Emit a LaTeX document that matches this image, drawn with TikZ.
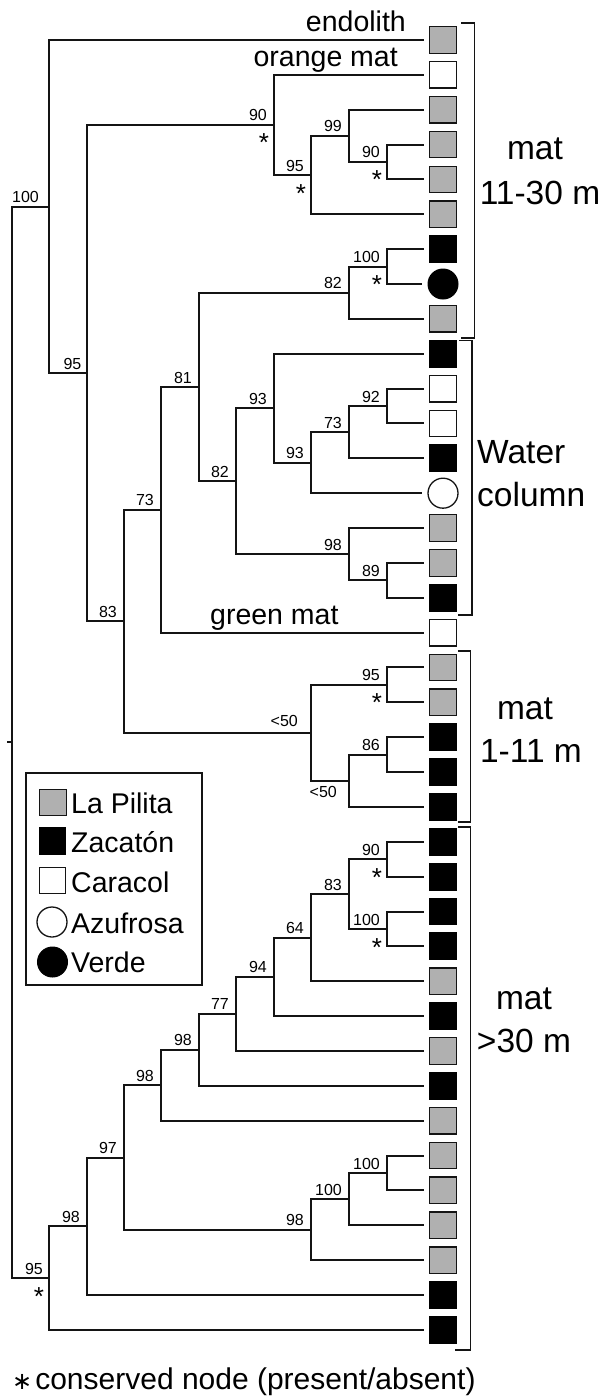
\documentclass[tikz,border=0pt]{standalone}
\usepackage{fontspec}
\setmainfont{Liberation Sans}
\newfontfamily\djv{DejaVu Sans}
\definecolor{lp}{RGB}{176,176,176}
\definecolor{ln}{RGB}{20,20,20}
\begin{document}
\begin{tikzpicture}[x=1pt,y=-1pt,
  br/.style={draw=ln,line width=2pt},
  sq/.style={draw=ln,line width=1.3pt,minimum size=26.5pt,inner sep=0pt,outer sep=0pt},
  pil/.style={sq,fill=lp},
  zac/.style={sq,fill=black,draw=black},
  car/.style={sq,fill=white},
  azu/.style={circle,draw=ln,line width=1.3pt,minimum size=30pt,inner sep=0pt,fill=white},
  ver/.style={circle,draw=black,fill=black,line width=1pt,minimum size=30pt,inner sep=0pt},
  bs/.style={font=\fontsize{16}{18}\selectfont,inner sep=0pt,anchor=base east,xshift=-7pt,yshift=4pt},
  ast/.style={font=\fontsize{26}{28}\selectfont,inner sep=0pt,anchor=base,xshift=-10pt,yshift=-27pt},
  lab/.style={font=\fontsize{28.5}{32}\selectfont,inner sep=0pt},
  grp/.style={font=\fontsize{33.5}{40}\selectfont,inner sep=0pt,anchor=base},
  bracket/.style={draw=ln,line width=1.7pt}
]
\useasboundingbox (0,0) rectangle (604,1396);
\fill[white] (0,0) rectangle (604,1396);

% leaves
\foreach \s [count=\n] in {pil,car,pil,pil,pil,pil,zac,ver,pil,zac,car,car,zac,azu,pil,pil,zac,car,pil,pil,zac,zac,zac,zac,zac,zac,zac,pil,zac,pil,zac,pil,pil,pil,pil,pil,zac,zac}
  \node[\s] (L\n) at (443,{40+34.86*(\n-1)}) {};

% internal nodes
\coordinate (a90) at (387,162.0);
\coordinate (a99) at (349,135.9);
\coordinate (a95) at (311,175.1);
\coordinate (a90top) at (274,125.0);
\coordinate (b100) at (387,266.6);
\coordinate (b82) at (349,292.7);
\coordinate (c92) at (387,406.0);
\coordinate (c73) at (349,432.2);
\coordinate (c93b) at (311,462.7);
\coordinate (c93a) at (274,408.2);
\coordinate (d89) at (387,580.3);
\coordinate (d98) at (349,554.2);
\coordinate (c82) at (236,481.2);
\coordinate (b81) at (199,387.0);
\coordinate (b73) at (161,509.8);
\coordinate (e95) at (387,684.9);
\coordinate (e86) at (387,754.6);
\coordinate (e50b) at (349,780.8);
\coordinate (e50) at (311,732.8);
\coordinate (b83) at (124,621.3);
\coordinate (a95b) at (87,373.2);
\coordinate (r100) at (49,206.6);
\coordinate (f90) at (387,859.2);
\coordinate (f100) at (387,929.0);
\coordinate (f83) at (349,894.1);
\coordinate (f64) at (311,937.7);
\coordinate (f94) at (274,976.9);
\coordinate (f77) at (236,1013.9);
\coordinate (f98c) at (199,1049.9);
\coordinate (f98b) at (161,1085.3);
\coordinate (g100b) at (387,1173.0);
\coordinate (g100) at (349,1199.1);
\coordinate (g98) at (311,1229.6);
\coordinate (f97) at (124,1157.5);
\coordinate (f98a) at (87,1226.2);
\coordinate (f95) at (49,1278.0);
\coordinate (root) at (12,742.3);
\coordinate (rs) at (7,742.3);

% connectors between internal nodes
\draw[br] (rs) -- (root);
\foreach \p/\c in {root/r100,root/f95,r100/a95b,a95b/a90top,a95b/b83,a90top/a95,a95/a99,a99/a90,
  b83/b73,b83/e50,b73/b81,b81/b82,b81/c82,b82/b100,c82/c93a,c82/d98,c93a/c93b,c93b/c73,c73/c92,d98/d89,
  e50/e95,e50/e50b,e50b/e86,
  f95/f98a,f98a/f97,f97/f98b,f97/g98,f98b/f98c,f98c/f77,f77/f94,f94/f64,f64/f83,f83/f90,f83/f100,g98/g100,g100/g100b}
  \draw[br] (\p) |- (\c);
% connectors to leaves
\foreach \p/\c in {r100/L1,a90top/L2,a99/L3,a90/L4,a90/L5,a95/L6,b100/L7,b100/L8,b82/L9,
  c93a/L10,c92/L11,c92/L12,c73/L13,c93b/L14,d98/L15,d89/L16,d89/L17,b73/L18,
  e95/L19,e95/L20,e86/L21,e86/L22,e50b/L23,
  f90/L24,f90/L25,f100/L26,f100/L27,f64/L28,f94/L29,f77/L30,f98c/L31,f98b/L32,
  g100b/L33,g100b/L34,g100/L35,g98/L36,f98a/L37,f95/L38}
  \draw[br] (\p) |- ([xshift=-5.5pt]\c.west);

% bootstrap values
\node[bs,xshift=-3pt] (t1) at (r100) {100};
\node[bs,xshift=1.5pt] (t2) at (a95b) {95};
\node[bs] (t3) at (a90top) {90};
\node[bs] (t4) at (a95) {95};
\node[bs] (t5) at (a99) {99};
\node[bs] (t6) at (a90) {90};
\node[bs] (t7) at (b100) {100};
\node[bs] (t8) at (b82) {82};
\node[bs] (t9) at (b81) {81};
\node[bs] (t10) at (c82) {82};
\node[bs] (t11) at (c93a) {93};
\node[bs] (t12) at (c93b) {93};
\node[bs] (t13) at (c73) {73};
\node[bs] (t14) at (c92) {92};
\node[bs] (t15) at (d98) {98};
\node[bs] (t16) at (d89) {89};
\node[bs] (t17) at (b73) {73};
\node[bs] (t18) at (b83) {83};
\node[bs,xshift=-6pt,yshift=2pt] (t19) at (e50) {<50};
\node[bs] (t20) at (e95) {95};
\node[bs] (t21) at (e86) {86};
\node[bs,xshift=-5pt,yshift=-21pt] (t22) at (e50b) {<50};
\node[bs,xshift=1pt] (t23) at (f95) {95};
\node[bs] (t24) at (f98a) {98};
\node[bs] (t25) at (f97) {97};
\node[bs] (t26) at (f98b) {98};
\node[bs] (t27) at (f98c) {98};
\node[bs] (t28) at (f77) {77};
\node[bs] (t29) at (f94) {94};
\node[bs] (t30) at (f64) {64};
\node[bs] (t31) at (f83) {83};
\node[bs] (t32) at (f90) {90};
\node[bs] (t33) at (f100) {100};
\node[bs] (t34) at (g98) {98};
\node[bs] (t35) at (g100) {100};
\node[bs] (t36) at (g100b) {100};

% conserved node marks
\foreach \p in {a90top,a95,a90,b100,e95,f90,f100,f95}
  \node[ast] (s\p) at (\p) {*};

% leaf labels
\node[lab,anchor=base east] (endo) at (406,32) {endolith};
\node[lab,anchor=base east] (orng) at (398,67) {orange mat};
\node[lab,anchor=base west] (grn) at (210,624) {green mat};

% brackets
\draw[bracket] (461,23) -- (474.5,23) -- (474.5,338) -- (461,338);
\draw[bracket] (459,340.5) -- (472,340.5) -- (472,615) -- (458,615);
\draw[bracket] (458,651) -- (470.5,651) -- (470.5,822) -- (458,822);
\draw[bracket] (458,827) -- (470.5,827) -- (470.5,1350) -- (455,1350);

% group labels
\node[grp] (g1a) at (535,160) {mat};
\node[grp] (g1b) at (540,205) {11-30 m};
\node[grp,anchor=base west] (g2a) at (477,463) {Water};
\node[grp,anchor=base west] (g2b) at (477,506) {column};
\node[grp] (g3a) at (525,719) {mat};
\node[grp] (g3b) at (531,762) {1-11 m};
\node[grp] (g4a) at (524,1009) {mat};
\node[grp] (g4b) at (524,1052) {>30 m};

% legend
\draw[draw=ln,line width=1.1pt] (26,773) rectangle (202,985);
\node[pil] (k1) at (53,802.5) {};
\node[zac] (k2) at (52.5,841) {};
\node[car] (k3) at (52.5,880.5) {};
\node[azu] (k4) at (52,922) {};
\node[ver] (k5) at (52.5,962) {};
\node[lab,anchor=base west] (kt1) at (71,813) {La Pilita};
\node[lab,anchor=base west] (kt2) at (71,852) {Zacatón};
\node[lab,anchor=base west] (kt3) at (71,892) {Caracol};
\node[lab,anchor=base west] (kt4) at (71,933) {Azufrosa};
\node[lab,anchor=base west] (kt5) at (71,972) {Verde};

% footnote
\node[font=\fontsize{30}{34}\selectfont,inner sep=0pt,anchor=base west] (ft) at (12,1389)
  {{\djv\fontsize{24}{26}\selectfont ∗}\hspace{3pt}conserved node (present/absent)};
\end{tikzpicture}
\end{document}
